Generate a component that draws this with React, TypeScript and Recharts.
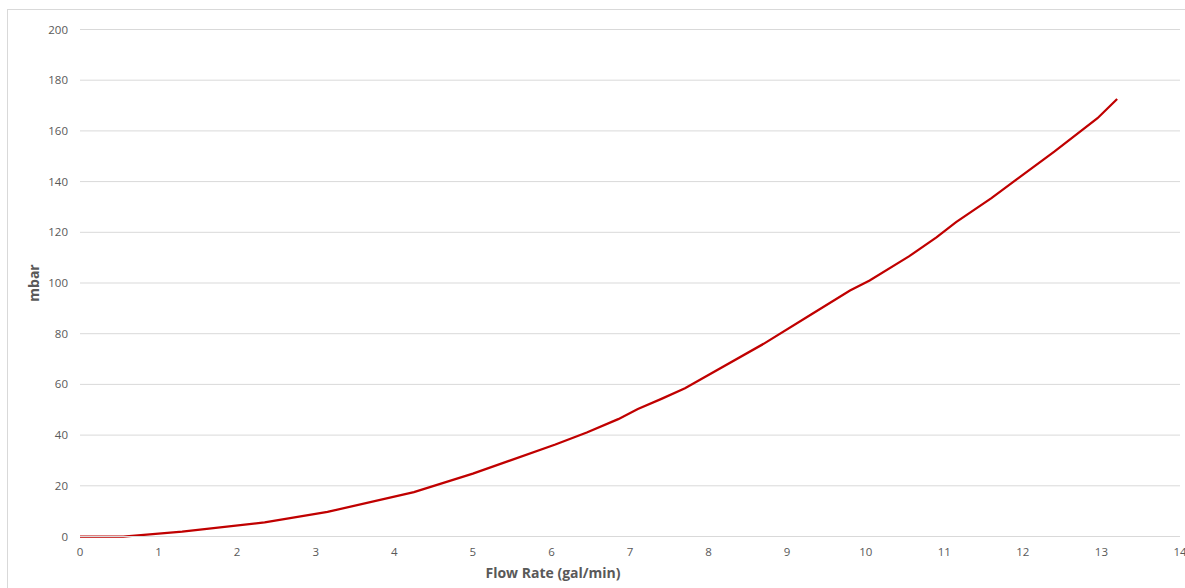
import React from 'react';
import { CartesianGrid, Label, Line, LineChart, XAxis, YAxis } from 'recharts';

const flowRate = [0, 0.55, 1.3, 2.35, 3.15, 4.25, 5.0, 6.05, 6.45, 6.85, 7.1, 7.4, 7.7, 8.7, 9.3, 9.8, 10.05, 10.55, 10.9, 11.15, 11.6, 12.4, 12.95, 13.2];
const pressure = [0, 0, 1.9, 5.6, 9.7, 17.5, 24.8, 36.3, 41, 46.3, 50.3, 54.3, 58.5, 76, 87.5, 97, 101, 110.5, 118, 124, 133.5, 151.8, 165, 172.6];
const xTicks = [0, 1, 2, 3, 4, 5, 6, 7, 8, 9, 10, 11, 12, 13, 14];
const yTicks = [0, 20, 40, 60, 80, 100, 120, 140, 160, 180, 200];

const data = flowRate.map((x, i) => ({ x, y: pressure[i] }));

const font = '"Open Sans", "Noto Sans", sans-serif';
const tickStyle = { fill: '#595959', fontSize: 11.5, fontFamily: font };

export default function App() {
  return (
    <div style={{ position: 'absolute', left: 0, top: 0, width: 1185, height: 588, background: '#fff', overflow: 'hidden' }}>
      <div style={{ position: 'absolute', left: 7, top: 9, width: 1200, height: 600, border: '1px solid #d9d9d9' }} />
      <LineChart
        width={1185}
        height={588}
        data={data}
        margin={{ top: 29.5, right: 5, bottom: 0, left: 0 }}
        style={{ position: 'absolute', left: 0, top: 0 }}
      >
        <CartesianGrid vertical={false} stroke="#d9d9d9" strokeWidth={1} />
        <XAxis
          dataKey="x"
          type="number"
          domain={[0, 14]}
          ticks={xTicks}
          interval={0}
          height={51.5}
          axisLine={{ stroke: '#d9d9d9' }}
          tickLine={false}
          tickSize={0}
          tickMargin={11}
          tick={tickStyle}
        >
          <Label
            value="Flow Rate (gal/min)"
            position="insideBottom"
            offset={10}
            dx={-77}
            style={{ fill: '#595959', fontSize: 14, fontWeight: 700, fontFamily: font }}
          />
        </XAxis>
        <YAxis
          type="number"
          domain={[0, 200]}
          ticks={yTicks}
          interval={0}
          width={80}
          axisLine={false}
          tickLine={false}
          tickSize={0}
          tickMargin={12}
          tick={tickStyle}
        >
          <Label
            value="mbar"
            angle={-90}
            position="insideLeft"
            offset={34}
            style={{ fill: '#595959', fontSize: 14, fontWeight: 700, fontFamily: font, textAnchor: 'middle' }}
          />
        </YAxis>
        <Line
          type="linear"
          dataKey="y"
          stroke="#c00000"
          strokeWidth={2.25}
          dot={false}
          isAnimationActive={false}
        />
      </LineChart>
    </div>
  );
}
